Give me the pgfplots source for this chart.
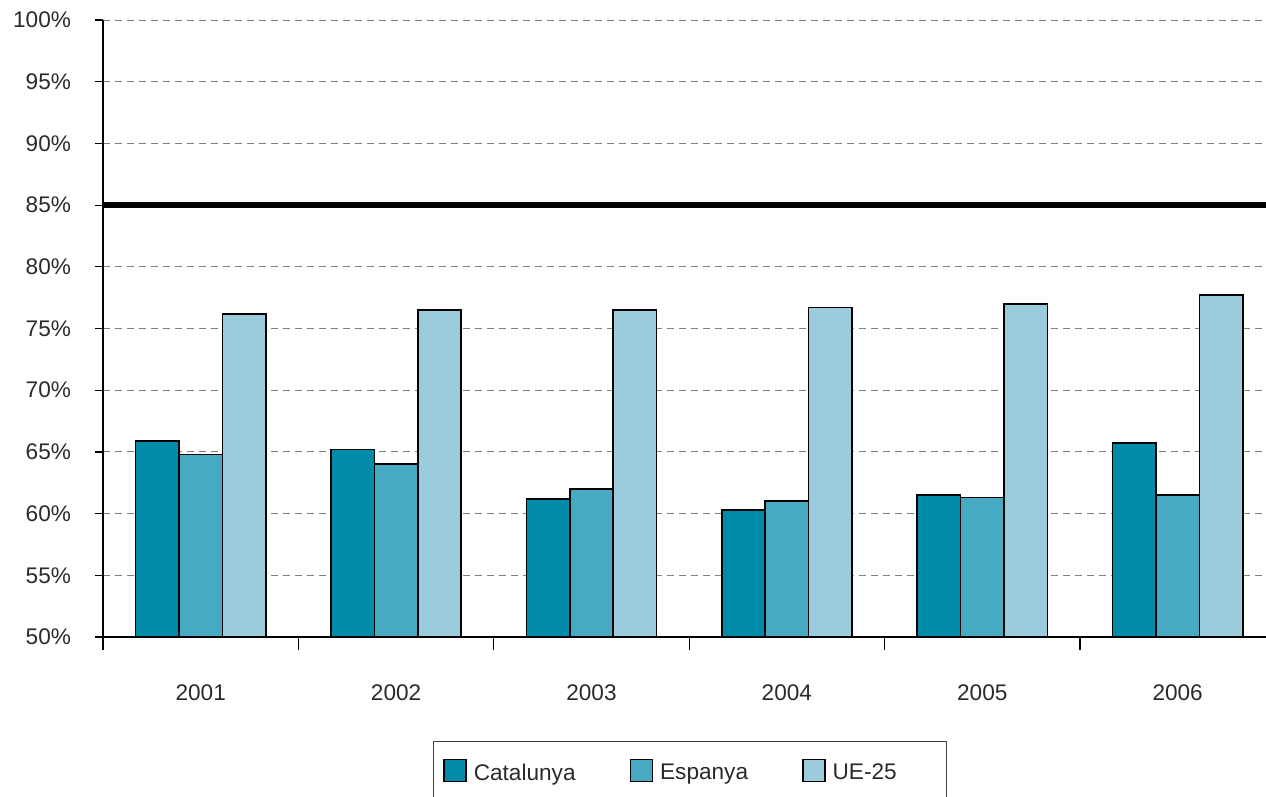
\documentclass[border=0pt]{standalone}
\usepackage{pgfplots}
\pgfplotsset{compat=1.18}
\usepackage{fontspec}
\setmainfont{Liberation Sans}
\definecolor{cat}{HTML}{008CA8}
\definecolor{esp}{HTML}{45AAC2}
\definecolor{ue}{HTML}{9BCCDE}
\definecolor{txt}{HTML}{2A2A2A}
\begin{document}
\begin{tikzpicture}
\path[use as bounding box] (0,0) rectangle (633pt,-398.5pt);
\begin{axis}[
  at={(51.5pt,-318.5pt)}, anchor=south west,
  scale only axis, width=581.5pt, height=308.5pt,
  xmin=-0.5, xmax=5.452, ymin=50, ymax=100,
  axis x line=bottom, axis y line=left,
  axis line style={-, black, line width=0.6pt},
  tick align=outside, major tick length=4pt,
  tick style={black, line width=0.6pt},
  ytick={50,55,...,100},
  yticklabel={\pgfmathprintnumber{\tick}\%},
  /pgf/number format/assume math mode=true,
  ymajorgrids,
  grid style={dash pattern=on 3.5pt off 2.5pt, black!50, line width=0.5pt},
  xtick={0,...,5},
  xticklabels={2001,2002,2003,2004,2005,2006},
  xtick style={draw=none},
  extra x ticks={-0.5,0.5,1.5,2.5,3.5,4.5},
  extra x tick labels={},
  extra x tick style={major tick length=6.5pt, xtick style={draw=black}, grid=none},
  tick label style={font=\fontsize{11.3}{13}\selectfont, text=txt},
  xticklabel style={yshift=-16.5pt},
  yticklabel style={xshift=-8.5pt},
  legend style={at={(0.5047,-0.1686)}, anchor=north, legend columns=3,
    draw=black!75, line width=0.6pt, inner xsep=5pt, inner ysep=8.5pt,
    font=\fontsize{11.3}{13}\selectfont, text=txt,
    /tikz/every even column/.append style={column sep=25pt}},
  legend cell align=left,
  mylegend/.style={legend image code/.code={\draw[##1, line width=0.75pt] (0pt,-4pt) rectangle (11pt,7pt); \path (12.5pt,0pt);}},
]
\addplot[black, line width=3pt, forget plot] coordinates {(-0.5,85) (5.452,85)};
\addplot[ybar, bar width=0.222, bar shift=-0.222, fill=cat, draw=black, line width=0.8pt, mylegend]
  coordinates {(0,65.9) (1,65.2) (2,61.2) (3,60.3) (4,61.5) (5,65.7)};
\addplot[ybar, bar width=0.222, bar shift=0, fill=esp, draw=black, line width=0.8pt, mylegend]
  coordinates {(0,64.8) (1,64.0) (2,62.0) (3,61.0) (4,61.3) (5,61.5)};
\addplot[ybar, bar width=0.222, bar shift=0.222, fill=ue, draw=black, line width=0.8pt, mylegend]
  coordinates {(0,76.2) (1,76.5) (2,76.5) (3,76.7) (4,77.0) (5,77.7)};
\legend{Catalunya, Espanya, \makebox[50pt][l]{UE-25}}
\end{axis}
\end{tikzpicture}
\end{document}
